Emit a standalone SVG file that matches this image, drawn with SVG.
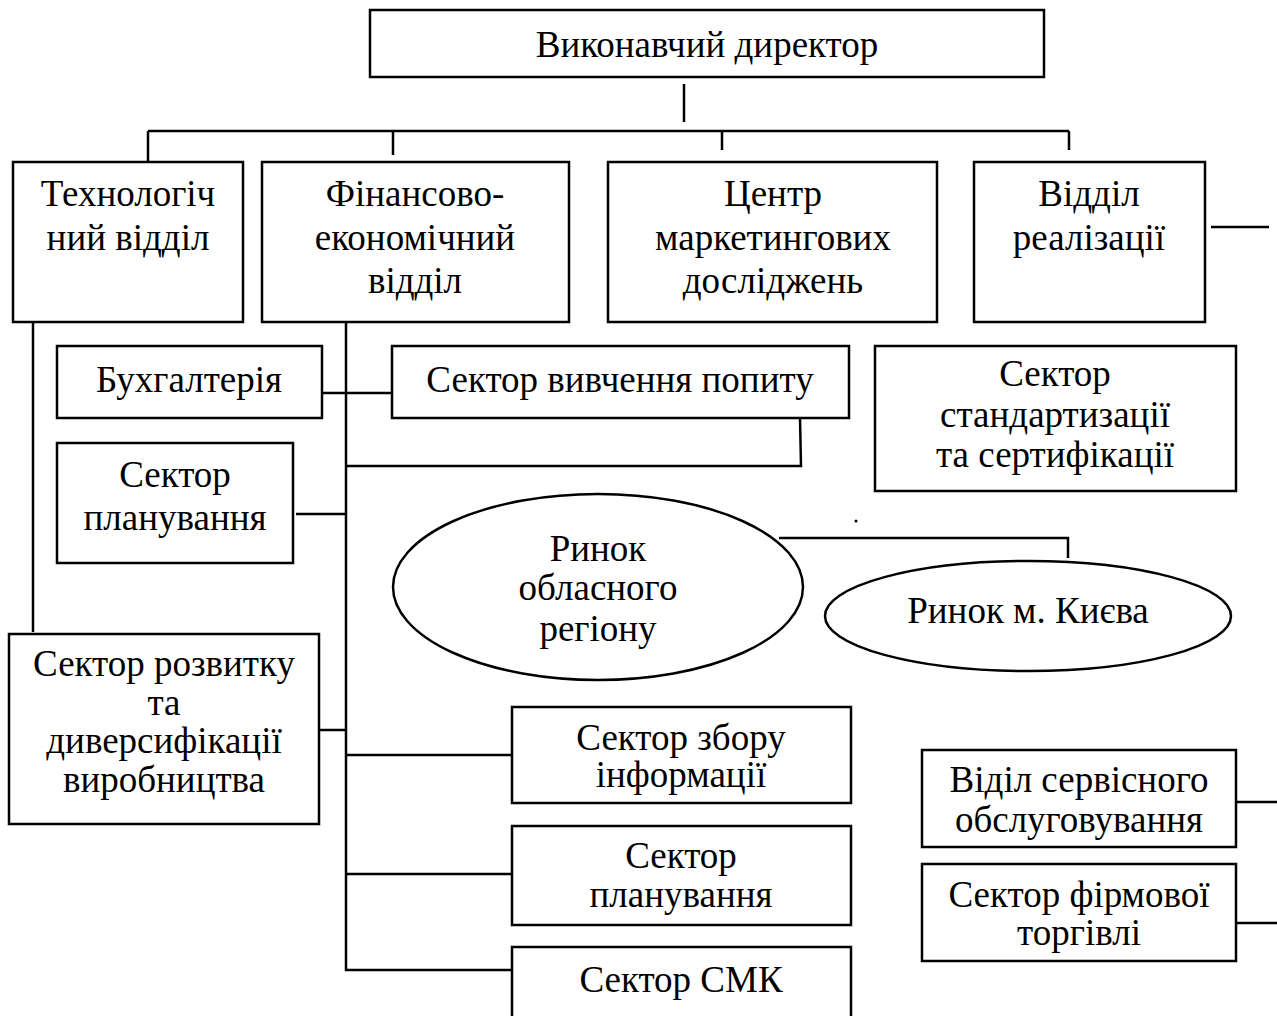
<svg xmlns="http://www.w3.org/2000/svg" width="1277" height="1016" viewBox="0 0 1277 1016">
<style>
.b{fill:#fff;stroke:#000;stroke-width:2.5}
.l{fill:none;stroke:#000;stroke-width:2.5}
text{font-family:"Liberation Serif","Times New Roman",serif;font-size:37px;fill:#000;text-anchor:middle}
</style>
<rect width="1277" height="1016" fill="#fff"/>
<g id="connectors">
<path class="l" d="M684 84V122"/>
<path class="l" d="M148 131H1069M148 131V168M393 131V155M722 131V150M1069 131V150"/>
<path class="l" d="M1211 227H1269"/>
<path class="l" d="M33 322V632"/>
<path class="l" d="M346 322V970H512"/>
<path class="l" d="M322 393H392"/>
<path class="l" d="M800 418L801 466H346"/>
<path class="l" d="M296 514H346"/>
<path class="l" d="M319 730H346"/>
<path class="l" d="M346 755H512"/>
<path class="l" d="M346 874H512"/>
<path class="l" d="M779 538H1068V558"/>
<path class="l" d="M1236 802H1277"/>
<path class="l" d="M1236 923H1277"/>
<circle cx="856" cy="521" r="1.5" fill="#000"/>
</g>
<g id="director"><rect class="b" x="370" y="10" width="674" height="67"/><text x="707" y="57">Виконавчий директор</text></g>
<g id="tech"><rect class="b" x="13" y="162" width="230" height="160"/><text x="128" y="206">Технологіч</text><text x="128" y="250">ний відділ</text></g>
<g id="fin"><rect class="b" x="262" y="162" width="307" height="160"/><text x="415" y="206">Фінансово-</text><text x="415" y="250">економічний</text><text x="415" y="293">відділ</text></g>
<g id="center"><rect class="b" x="608" y="162" width="329" height="160"/><text x="773" y="206">Центр</text><text x="773" y="250">маркетингових</text><text x="773" y="293">досліджень</text></g>
<g id="sales"><rect class="b" x="974" y="162" width="231" height="160"/><text x="1089" y="206">Відділ</text><text x="1089" y="250">реалізації</text></g>
<g id="buh"><rect class="b" x="57" y="346" width="265" height="72"/><text x="189" y="392">Бухгалтерія</text></g>
<g id="demand"><rect class="b" x="392" y="346" width="457" height="72"/><text x="620" y="392">Сектор вивчення попиту</text></g>
<g id="standard"><rect class="b" x="875" y="346" width="361" height="145"/><text x="1055" y="386">Сектор</text><text x="1055" y="427">стандартизації</text><text x="1055" y="467">та сертифікації</text></g>
<g id="plan1"><rect class="b" x="57" y="443" width="236" height="120"/><text x="175" y="487">Сектор</text><text x="175" y="530">планування</text></g>
<g id="market-region"><ellipse class="b" cx="598" cy="587" rx="205" ry="93"/><text x="598" y="561">Ринок</text><text x="598" y="600">обласного</text><text x="598" y="641">регіону</text></g>
<g id="market-kyiv"><ellipse class="b" cx="1028" cy="616" rx="203" ry="55"/><text x="1028" y="623">Ринок м. Києва</text></g>
<g id="develop"><rect class="b" x="9" y="634" width="310" height="190"/><text x="164" y="676">Сектор розвитку</text><text x="164" y="715">та</text><text x="164" y="753">диверсифікації</text><text x="164" y="792">виробництва</text></g>
<g id="info"><rect class="b" x="512" y="707" width="339" height="96"/><text x="681" y="750">Сектор збору</text><text x="681" y="787">інформації</text></g>
<g id="plan2"><rect class="b" x="512" y="826" width="339" height="99"/><text x="681" y="868">Сектор</text><text x="681" y="907">планування</text></g>
<g id="smk"><rect class="b" x="512" y="947" width="339" height="80"/><text x="681" y="992">Сектор СМК</text></g>
<g id="service"><rect class="b" x="922" y="750" width="314" height="97"/><text x="1079" y="792">Віділ сервісного</text><text x="1079" y="832">обслуговування</text></g>
<g id="firm"><rect class="b" x="922" y="864" width="314" height="97"/><text x="1079" y="907">Сектор фірмової</text><text x="1079" y="945">торгівлі</text></g>
</svg>
